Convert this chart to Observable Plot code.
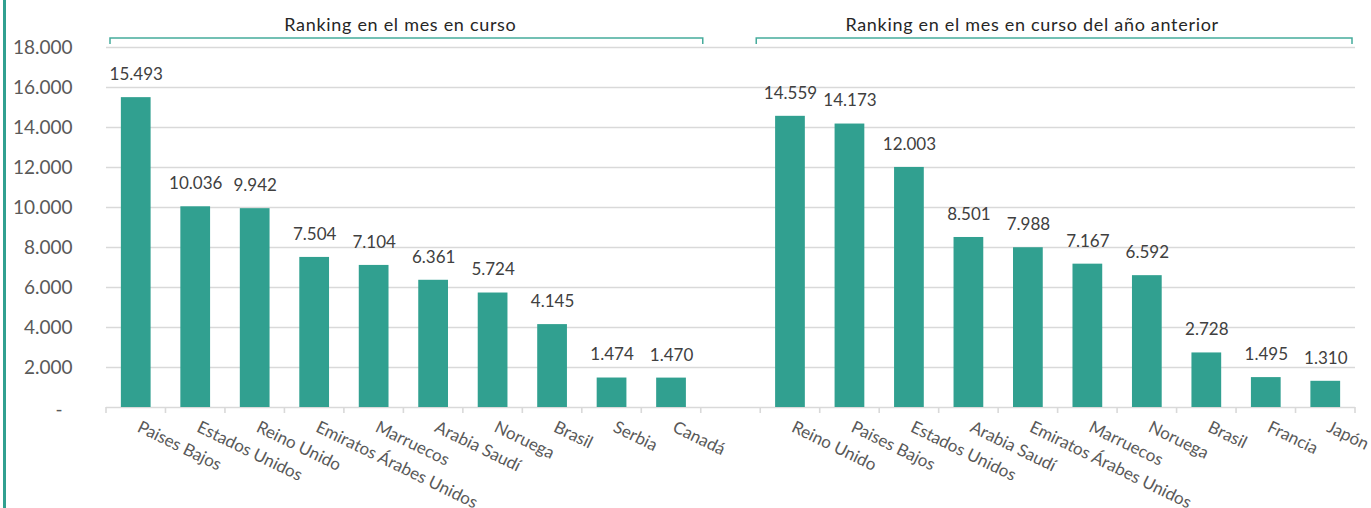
<!DOCTYPE html>
<html>
<head>
<meta charset="utf-8">
<script src="https://cdn.jsdelivr.net/npm/d3@7"></script>
<script src="https://cdn.jsdelivr.net/npm/@observablehq/plot@0.6"></script>
<style>
  html, body { margin: 0; padding: 0; background: #fff; }
  svg { display: block; }
</style>
</head>
<body>
<div id="chart"></div>
<script>
const catsNow = ["Paises Bajos","Estados Unidos","Reino Unido","Emiratos Árabes Unidos","Marruecos","Arabia Saudí","Noruega","Brasil","Serbia","Canadá"];
const valsNow = [15493,10036,9942,7504,7104,6361,5724,4145,1474,1470];
const catsPrev = ["Reino Unido","Paises Bajos","Estados Unidos","Arabia Saudí","Emiratos Árabes Unidos","Marruecos","Noruega","Brasil","Francia","Japón"];
const valsPrev = [14559,14173,12003,8501,7988,7167,6592,2728,1495,1310];
const groupTitles = ["Ranking en el mes en curso", "Ranking en el mes en curso del año anterior"];
const yTicks = [0,2000,4000,6000,8000,10000,12000,14000,16000,18000];

const fmt = d3.formatLocale({decimal: ",", thousands: ".", grouping: [3], currency: ["", ""]}).format(",d");

const rows = [
  ...catsNow.map((c, i) => ({key: "n" + i, name: c, value: valsNow[i]})),
  {key: "gap", name: "", value: null},
  ...catsPrev.map((c, i) => ({key: "p" + i, name: c, value: valsPrev[i]}))
];
const keys = rows.map(d => d.key);
const bars = rows.filter(d => d.value != null);

const teal = "#31a090";
const grid = "#d9d9d9";
const font = "Lato, 'Open Sans', sans-serif";

const plot = Plot.plot({
  width: 1371,
  height: 508,
  marginLeft: 106,
  marginRight: 16,
  marginTop: 47,
  marginBottom: 101,
  style: {fontFamily: font, background: "#fff", overflow: "visible"},
  x: {type: "band", domain: keys, paddingInner: 0.5, paddingOuter: 0.25, round: false, axis: null},
  y: {domain: [0, 18000], axis: null},
  marks: [
    Plot.ruleY(yTicks, {stroke: grid, strokeWidth: 1.6}),
    Plot.barY(bars, {x: "key", y: "value", fill: teal}),
    Plot.text(bars, {x: "key", y: "value", text: d => fmt(d.value), dy: -23, fontSize: 17, fill: "#404040"}),
    Plot.text(rows, {x: "key", text: "name", frameAnchor: "bottom", dy: 23.5, rotate: 26, textAnchor: "start", fontSize: 17, fill: "#595959"}),
    Plot.text(yTicks.filter(d => d > 0), {y: d => d, text: d => fmt(d), frameAnchor: "left", dx: -34, textAnchor: "end", fontSize: 19, fill: "#595959"}),
    Plot.text(yTicks.filter(d => d === 0), {y: d => d, text: () => "-", frameAnchor: "left", dx: -44, dy: 2, textAnchor: "end", fontSize: 19, fill: "#595959"})
  ]
});

document.getElementById("chart").appendChild(plot);

// Decorations derived from the band scale
const sx = plot.scale("x");
const sy = plot.scale("y");
const step = sx.step, bw = sx.bandwidth;
const boundary = i => i < keys.length ? sx.apply(keys[i]) - (step - bw) / 2 : sx.apply(keys[keys.length - 1]) - (step - bw) / 2 + step;
const y0 = sy.apply(0);
const yTop = sy.apply(18000);
const svg = d3.select(plot);

// boundary ticks below the axis
const tg = svg.append("g").attr("stroke", grid).attr("stroke-width", 1.6);
for (let i = 0; i <= keys.length; i++) {
  tg.append("line").attr("x1", boundary(i)).attr("x2", boundary(i)).attr("y1", y0).attr("y2", y0 + 6);
}

// group brackets and titles
const groups = [
  {a: boundary(0) + 4, b: boundary(10) + 2, title: groupTitles[0], shift: -6},
  {a: boundary(11) - 4, b: boundary(21) - 3, title: groupTitles[1], shift: -22}
];
const by = yTop - 9;
groups.forEach(g => {
  svg.append("path")
    .attr("d", `M${g.a},${by + 6}V${by}H${g.b}V${by + 6}`)
    .attr("fill", "none").attr("stroke", "#46ac9c").attr("stroke-width", 1.5);
  svg.append("text")
    .attr("x", (g.a + g.b) / 2 + g.shift).attr("y", by - 7)
    .attr("text-anchor", "middle")
    .attr("font-family", font).attr("font-size", 18).attr("letter-spacing", 0.7).attr("fill", "#262626")
    .text(g.title);
});

// left accent line
svg.append("rect").attr("x", 3).attr("y", 0).attr("width", 3).attr("height", 508).attr("fill", teal);
</script>
</body>
</html>
